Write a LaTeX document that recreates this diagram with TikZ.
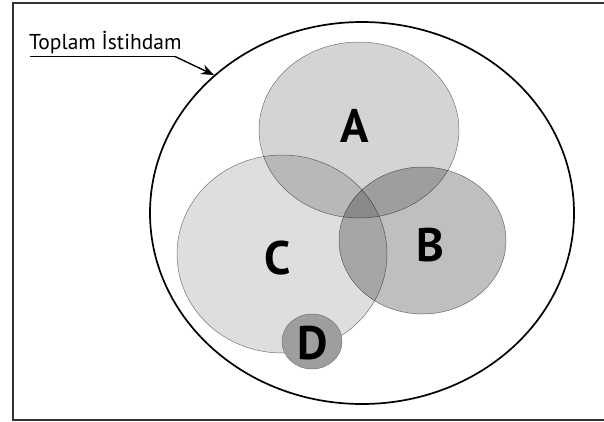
\documentclass[tikz,border=0pt]{standalone}
\usepackage{fontspec}
\setmainfont{PT Sans}
\usetikzlibrary{arrows.meta,shapes.geometric}
\begin{document}
\begin{tikzpicture}[x=1pt,y=-1pt,
  setshape/.style={ellipse, inner sep=0pt, draw=black!50, line width=0.5pt},
  letter/.style={font=\bfseries\fontsize{47}{47}\selectfont, inner sep=0pt},
  label/.style={font=\fontsize{21.5}{21.5}\selectfont, inner sep=0pt},
]
\useasboundingbox (0,0) rectangle (604,421);
% frame, open on the right
\draw[line width=1.4pt, black!80] (606,3) -- (13,3) -- (13,420) -- (606,420);

% total employment
\node[ellipse, inner sep=0pt, draw=black, line width=1.7pt,
      minimum width=424pt, minimum height=382pt] (total) at (362,213) {};

% overlapping sets
\begin{scope}[blend group=multiply]
  \node[setshape, fill=black!13, minimum width=210pt, minimum height=198pt] (C) at (282,254) {};
  \node[setshape, fill=black!17, minimum width=200pt, minimum height=176pt] (A) at (359,130) {};
  \node[setshape, fill=black!25, minimum width=167pt, minimum height=147pt] (B) at (422.5,240.5) {};
\end{scope}
\node[setshape, fill=black!38, draw=black!55, minimum width=60pt, minimum height=55pt] (D) at (312,341.5) {};

\node[letter] (la) at (355,126) {A};
\node[letter] (lb) at (430,245) {B};
\node[letter] (lc) at (278,258) {C};
\node[letter] (ld) at (313,343) {D};

% label with underline and pointer
\node[label, anchor=base west] (lbl) at (29,49) {Toplam İstihdam};
\coordinate (ulstart) at (30,56.5);
\coordinate (ulend) at (175,56.5);
\draw[line width=1.8pt] (ulstart) -- (ulend);
\draw[line width=1.4pt, -{Stealth[length=13pt,width=10pt]}] (ulend) -- (total.137);
\end{tikzpicture}
\end{document}
